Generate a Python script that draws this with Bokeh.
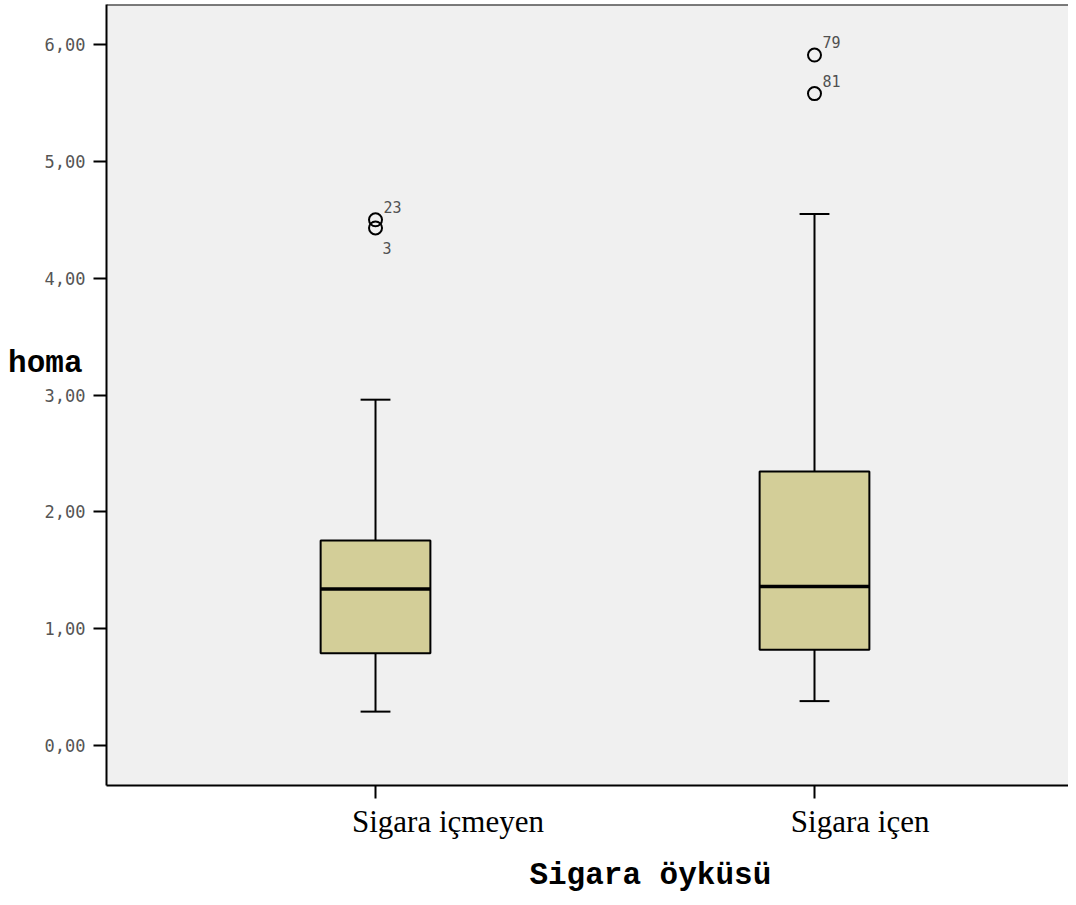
from bokeh.plotting import figure
from bokeh.models import ColumnDataSource, FixedTicker, Span, Range1d, LinearAxis
from bokeh.core.properties import value
from bokeh.embed import file_html
from bokeh.resources import INLINE

# ---------------- data ----------------
categories = ["Sigara içmeyen", "Sigara içen"]
cat_pos = [1, 2]
whisker_low = [0.29, 0.38]
q1 = [0.79, 0.82]
median = [1.34, 1.36]
q3 = [1.755, 2.345]
whisker_high = [2.96, 4.55]

outlier_group = [1, 1, 2, 2]
outlier_values = [4.50, 4.43, 5.91, 5.58]
outlier_ids = ["23", "3", "79", "81"]
outlier_label_side = ["above", "below", "above", "above"]

y_ticks = [0, 1, 2, 3, 4, 5, 6]
y_tick_labels = ["0,00", "1,00", "2,00", "3,00", "4,00", "5,00", "6,00"]

x_title = "Sigara öyküsü"
y_title = "homa"

# ---------------- layout constants ----------------
X_START, X_END = 0.3872, 2.5786
Y_START, Y_END = -0.3424, 6.3426
BOX_W = 0.25
CAP_W = 0.068
CAT_LABEL_X = [1.165, 2.104]   # category labels sit right of their ticks (as in the original)
X_TITLE_AT = 1.626             # horizontal centre of the x title (data units)
Y_TITLE_AT = 3.27              # vertical centre of the y title (data units)

p = figure(width=1068, height=897, output_backend="svg", toolbar_location=None,
           x_range=Range1d(X_START, X_END), y_range=Range1d(Y_START, Y_END),
           min_border_left=106, min_border_right=0, min_border_top=4, min_border_bottom=112,
           background_fill_color="#F0F0F0", border_fill_color="white")
p.outline_line_color = None
p.grid.visible = False

# x axis: tick marks only
p.xaxis.ticker = FixedTicker(ticks=cat_pos)
p.xaxis.major_label_overrides = {k: "" for k in cat_pos}
p.xaxis.major_label_text_font_size = "0px"
p.xaxis.major_label_standoff = 0
p.xaxis.major_tick_out = 13
p.xaxis.major_tick_in = 0
p.xaxis.minor_tick_line_color = None
p.xaxis.major_tick_line_width = 2
p.xaxis.axis_line_width = 2
p.xaxis.major_tick_line_color = "black"
p.xaxis.axis_line_color = "black"

# category labels
cat_axis = LinearAxis(ticker=FixedTicker(ticks=CAT_LABEL_X),
                      major_label_overrides={k: v for k, v in zip(CAT_LABEL_X, categories)},
                      major_label_text_font="Liberation Serif",
                      major_label_text_font_size="31px",
                      major_label_text_color="black",
                      major_label_standoff=5,
                      major_tick_out=0, major_tick_in=0,
                      major_tick_line_color=None, minor_tick_line_color=None,
                      axis_line_color=None)
p.add_layout(cat_axis, "below")

# x title
xtitle_axis = LinearAxis(ticker=FixedTicker(ticks=[X_TITLE_AT]),
                         major_label_overrides={X_TITLE_AT: x_title},
                         major_label_text_font="Liberation Mono",
                         major_label_text_font_style="bold",
                         major_label_text_font_size="31px",
                         major_label_text_color="black",
                         major_label_standoff=16,
                         major_tick_out=0, major_tick_in=0,
                         major_tick_line_color=None, minor_tick_line_color=None,
                         axis_line_color=None)
p.add_layout(xtitle_axis, "below")

# y axis
p.yaxis.ticker = FixedTicker(ticks=y_ticks)
p.yaxis.major_label_overrides = {k: v for k, v in zip(y_ticks, y_tick_labels)}
p.yaxis.major_label_text_font = "DejaVu Sans Mono"
p.yaxis.major_label_text_font_size = "17px"
p.yaxis.major_label_text_color = "#555555"
p.yaxis.major_label_standoff = 8
p.yaxis.major_tick_out = 13
p.yaxis.major_tick_in = 0
p.yaxis.minor_tick_line_color = None
p.yaxis.major_tick_line_width = 2
p.yaxis.axis_line_width = 2
p.yaxis.major_tick_line_color = "black"
p.yaxis.axis_line_color = "black"

# y title ("homa"), horizontal
ytitle_axis = LinearAxis(ticker=FixedTicker(ticks=[Y_TITLE_AT]),
                         major_label_overrides={Y_TITLE_AT: y_title},
                         major_label_text_font="Liberation Mono",
                         major_label_text_font_style="bold",
                         major_label_text_font_size="31px",
                         major_label_text_color="black",
                         major_label_standoff=-41,
                         major_tick_out=0, major_tick_in=0,
                         major_tick_line_color=None, minor_tick_line_color=None,
                         axis_line_color=None)
p.add_layout(ytitle_axis, "left")

# top border of plot area
p.add_layout(Span(location=Y_END, dimension="width", line_color="black", line_width=2))

# whiskers
p.segment(x0=cat_pos, y0=q3, x1=cat_pos, y1=whisker_high, line_color="black", line_width=2)
p.segment(x0=cat_pos, y0=q1, x1=cat_pos, y1=whisker_low, line_color="black", line_width=2)
p.segment(x0=[c - CAP_W / 2 for c in cat_pos], y0=whisker_high,
          x1=[c + CAP_W / 2 for c in cat_pos], y1=whisker_high, line_color="black", line_width=2)
p.segment(x0=[c - CAP_W / 2 for c in cat_pos], y0=whisker_low,
          x1=[c + CAP_W / 2 for c in cat_pos], y1=whisker_low, line_color="black", line_width=2)

# boxes
p.vbar(x=cat_pos, width=BOX_W, bottom=q1, top=q3, fill_color="#D3CE98",
       line_color="black", line_width=2)
p.segment(x0=[c - BOX_W / 2 for c in cat_pos], y0=median,
          x1=[c + BOX_W / 2 for c in cat_pos], y1=median, line_color="black", line_width=3.5)

# outliers
p.scatter(x=outlier_group, y=outlier_values, marker="circle", size=13,
          fill_color=None, line_color="black", line_width=2)

above = ColumnDataSource(dict(
    x=[g for g, s in zip(outlier_group, outlier_label_side) if s == "above"],
    y=[v for v, s in zip(outlier_values, outlier_label_side) if s == "above"],
    t=[i for i, s in zip(outlier_ids, outlier_label_side) if s == "above"]))
below = ColumnDataSource(dict(
    x=[g for g, s in zip(outlier_group, outlier_label_side) if s == "below"],
    y=[v for v, s in zip(outlier_values, outlier_label_side) if s == "below"],
    t=[i for i, s in zip(outlier_ids, outlier_label_side) if s == "below"]))
p.text(x="x", y="y", text="t", source=above, x_offset=8, y_offset=-13,
       text_font=value("DejaVu Sans Mono"), text_font_size="15px", text_color="#505050",
       text_baseline="alphabetic", text_align="left")
p.text(x="x", y="y", text="t", source=below, x_offset=7, y_offset=14,
       text_font=value("DejaVu Sans Mono"), text_font_size="15px", text_color="#505050",
       text_baseline="top", text_align="left")

open("out.html", "w").write(file_html(p, INLINE))
